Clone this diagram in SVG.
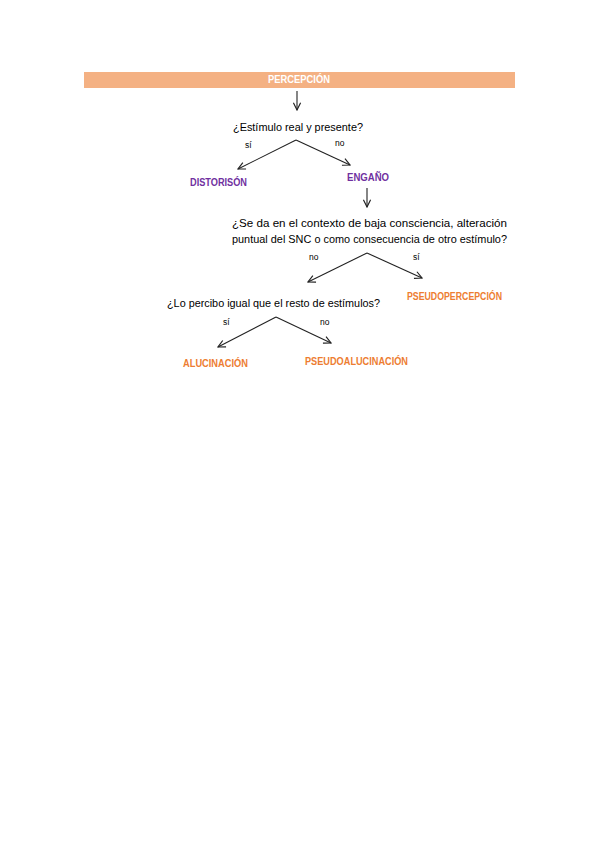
<svg xmlns="http://www.w3.org/2000/svg" width="599" height="848" viewBox="0 0 599 848">
<defs>
<marker id="ah" viewBox="0 0 10 10" refX="9" refY="5" markerWidth="9" markerHeight="9" markerUnits="userSpaceOnUse" orient="auto">
<path d="M1,1 L9,5 L1,9" fill="none" stroke="#222" stroke-width="1.3"/>
</marker>
</defs>
<style>
text{font-family:"Liberation Sans",Arial,sans-serif;}
.q{font-size:10.8px;fill:#000;}
.lab{font-size:8.5px;fill:#000;}
.pur{font-size:10px;font-weight:bold;fill:#7030A0;}
.ora{font-size:10px;font-weight:bold;fill:#ED7D31;}
.ln{stroke:#222;stroke-width:1.1;fill:none;marker-end:url(#ah);}
</style>
<rect width="599" height="848" fill="#fff"/>
<g id="percepcion">
<rect x="84" y="72" width="431" height="16" fill="#F4B183"/>
<text x="268" y="83" font-size="10" font-weight="bold" fill="#fff" textLength="62" lengthAdjust="spacingAndGlyphs">PERCEPCIÓN</text>
</g>
<g id="q1">
<text class="q" x="233" y="131" textLength="130" lengthAdjust="spacingAndGlyphs">¿Estímulo real y presente?</text>
</g>
<g id="distorsion">
<text class="pur" x="190" y="186" textLength="57" lengthAdjust="spacingAndGlyphs">DISTORISÓN</text>
</g>
<g id="engano">
<text class="pur" x="347" y="181" textLength="42" lengthAdjust="spacingAndGlyphs">ENGAÑO</text>
</g>
<g id="q2">
<text class="q" x="232" y="227" textLength="275" lengthAdjust="spacingAndGlyphs">¿Se da en el contexto de baja consciencia, alteración</text>
<text class="q" x="232" y="243" textLength="275" lengthAdjust="spacingAndGlyphs">puntual del SNC o como consecuencia de otro estímulo?</text>
</g>
<g id="pseudopercepcion">
<text class="ora" x="407" y="300" textLength="95" lengthAdjust="spacingAndGlyphs">PSEUDOPERCEPCIÓN</text>
</g>
<g id="q3">
<text class="q" x="167" y="307" textLength="213" lengthAdjust="spacingAndGlyphs">¿Lo percibo igual que el resto de estímulos?</text>
</g>
<g id="alucinacion">
<text class="ora" x="183" y="367" textLength="65" lengthAdjust="spacingAndGlyphs">ALUCINACIÓN</text>
</g>
<g id="pseudoalucinacion">
<text class="ora" x="305" y="365" textLength="103" lengthAdjust="spacingAndGlyphs">PSEUDOALUCINACIÓN</text>
</g>
<g id="connectors">
<line class="ln" x1="297" y1="91" x2="297" y2="110"/>
<line class="ln" x1="296" y1="140" x2="238" y2="169"/>
<line class="ln" x1="296" y1="140" x2="350" y2="165"/>
<line class="ln" x1="367" y1="188" x2="367" y2="207"/>
<line class="ln" x1="367" y1="253" x2="308" y2="282"/>
<line class="ln" x1="367" y1="253" x2="422" y2="278"/>
<line class="ln" x1="276" y1="317" x2="218" y2="347"/>
<line class="ln" x1="276" y1="317" x2="331" y2="343"/>
<text class="lab" x="245" y="148">sí</text>
<text class="lab" x="335" y="146">no</text>
<text class="lab" x="309" y="260">no</text>
<text class="lab" x="413" y="260">sí</text>
<text class="lab" x="223" y="325">sí</text>
<text class="lab" x="320" y="325">no</text>
</g>
</svg>
